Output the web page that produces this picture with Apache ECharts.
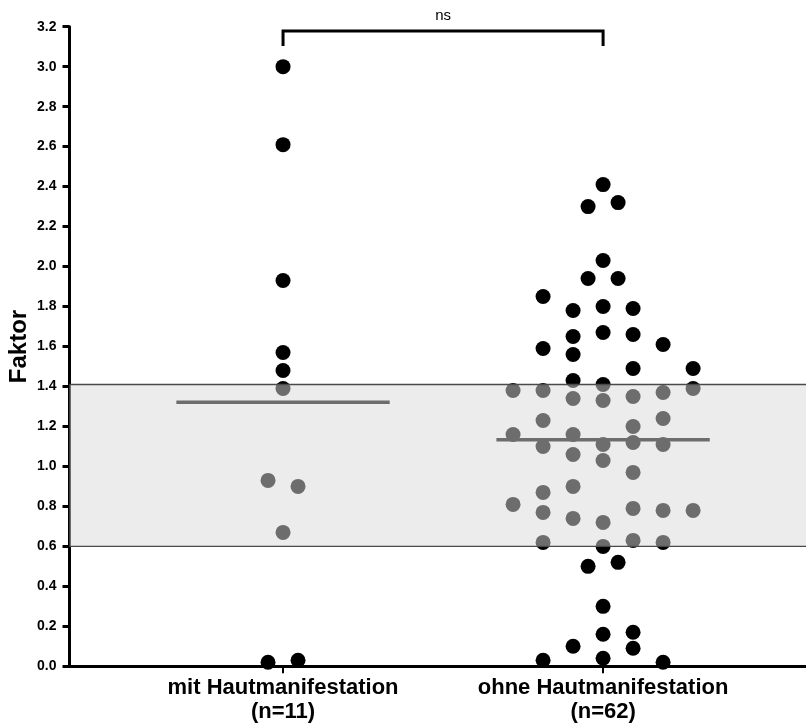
<!DOCTYPE html>
<html>
<head>
<meta charset="utf-8">
<script src="https://cdn.jsdelivr.net/npm/echarts@6/dist/echarts.min.js"></script>
<style>
  html, body { margin: 0; padding: 0; background: #fff; }
  #chart { width: 806px; height: 728px; }
</style>
</head>
<body>
<div id="chart"></div>
<script>
// Group labels on the x axis
const groupLabels = ['mit Hautmanifestation\n(n=11)', 'ohne Hautmanifestation\n(n=62)'];

// Factor values per patient, with their horizontal beeswarm slot
const mitValues = [3.00, 2.61, 1.93, 1.57, 1.48, 1.39, 0.93, 0.90, 0.67, 0.02, 0.03];
const mitSlots  = [0, 0, 0, 0, 0, 0, -0.5, 0.5, 0, -0.5, 0.5];

const ohneValues = [
  2.41, 2.30, 2.32, 2.03, 1.94, 1.94,
  1.85, 1.78, 1.80, 1.79, 1.65, 1.67, 1.66,
  1.59, 1.61, 1.56, 1.49, 1.49, 1.43, 1.41,
  1.38, 1.38, 1.34, 1.33, 1.35, 1.37, 1.39,
  1.23, 1.24, 1.16, 1.16, 1.20, 1.10, 1.11, 1.12, 1.11,
  1.06, 1.03, 0.97, 0.90, 0.87, 0.81, 0.77, 0.74, 0.72, 0.79, 0.78, 0.78,
  0.62, 0.63, 0.62, 0.60, 0.50, 0.52,
  0.30, 0.16, 0.17, 0.10, 0.09, 0.03, 0.04, 0.02
];
const ohneSlots = [
  0, -0.5, 0.5, 0, -0.5, 0.5,
  -2, -1, 0, 1, -1, 0, 1,
  -2, 2, -1, 1, 3, -1, 0,
  -3, -2, -1, 0, 1, 2, 3,
  -2, 2, -3, -1, 1, -2, 0, 1, 2,
  -1, 0, 1, -1, -2, -3, -2, -1, 0, 1, 2, 3,
  -2, 1, 2, 0, -0.5, 0.5,
  0, 0, 1, -1, 1, -2, 0, 2
];

// Normal range shown as a shaded band
const referenceRange = [0.60, 1.41];

// Significance bracket between the two groups
const comparison = { from: 1, to: 2, label: 'ns' };

// Layout / style constants
const SLOT_WIDTH = 0.09375;     // x-units per beeswarm slot
const MEAN_HALF_WIDTH = 1 / 3;  // half length of the mean bar, x-units
const BRACKET_Y = 3.178;
const BRACKET_DROP = 3.103;
const LABEL_Y = 3.256;
const FONT = '"Liberation Sans", Arial, Helvetica, sans-serif';

const mean = arr => arr.reduce((s, v) => s + v, 0) / arr.length;
const toPoints = (group, values, slots) =>
  values.map((v, i) => [group + slots[i] * SLOT_WIDTH, v]);

const chart = echarts.init(document.getElementById('chart'), null, { renderer: 'canvas' });

chart.setOption({
  animation: false,
  backgroundColor: '#fff',
  grid: {
    left: 69.5, right: 0, top: 26.7, bottom: 61.7,
    containLabel: false,
    outerBoundsMode: 'none'
  },
  xAxis: {
    type: 'value',
    min: 0.3328,
    max: 2.634,
    splitLine: { show: false },
    axisLine: { show: true, onZero: false, lineStyle: { color: '#000', width: 3 } },
    axisTick: { show: true, customValues: [1, 2], length: 7, lineStyle: { color: '#000', width: 2 } },
    axisLabel: {
      show: true,
      customValues: [1, 2],
      formatter: v => groupLabels[Math.round(v) - 1] || '',
      color: '#000',
      fontFamily: FONT,
      fontWeight: 'bold',
      fontSize: 22,
      lineHeight: 24,
      margin: 10
    }
  },
  yAxis: {
    type: 'value',
    min: 0,
    max: 3.2,
    interval: 0.2,
    name: 'Faktor',
    nameLocation: 'middle',
    nameGap: 38,
    nameMoveOverlap: false,
    nameTextStyle: { color: '#000', fontFamily: FONT, fontWeight: 'bold', fontSize: 24 },
    splitLine: { show: false },
    axisLine: { show: true, lineStyle: { color: '#000', width: 3 } },
    axisTick: { show: true, length: 7, lineStyle: { color: '#000', width: 3 } },
    axisLabel: {
      color: '#000',
      fontFamily: FONT,
      fontWeight: 'bold',
      fontSize: 14,
      margin: 13,
      formatter: v => v.toFixed(1)
    }
  },
  series: [
    {
      name: 'mit Hautmanifestation',
      type: 'scatter',
      data: toPoints(1, mitValues, mitSlots),
      symbol: 'circle',
      symbolSize: 15,
      itemStyle: { color: '#000', opacity: 1 },
      z: 2
    },
    {
      name: 'ohne Hautmanifestation',
      type: 'scatter',
      data: toPoints(2, ohneValues, ohneSlots),
      symbol: 'circle',
      symbolSize: 15,
      itemStyle: { color: '#000', opacity: 1 },
      z: 2
    },
    {
      // group means
      name: 'Mittelwert',
      type: 'custom',
      data: [[1, mean(mitValues)], [2, mean(ohneValues)]],
      renderItem: (params, api) => {
        const g = api.value(0), m = api.value(1);
        const a = api.coord([g - MEAN_HALF_WIDTH, m]);
        const b = api.coord([g + MEAN_HALF_WIDTH, m]);
        return {
          type: 'line',
          shape: { x1: a[0], y1: a[1], x2: b[0], y2: b[1] },
          style: { stroke: '#000', lineWidth: 3.5 }
        };
      },
      z: 3
    },
    {
      // translucent normal-range band laid over the points
      name: 'Normbereich',
      type: 'custom',
      data: [referenceRange],
      clip: false,
      renderItem: (params, api) => {
        const cs = params.coordSys;
        const top = api.coord([1, api.value(1)])[1];
        const bottom = api.coord([1, api.value(0)])[1];
        return {
          type: 'group',
          children: [
            {
              type: 'rect',
              shape: { x: cs.x, y: top, width: cs.width, height: bottom - top },
              style: { fill: 'rgba(217,217,217,0.5)' }
            },
            {
              type: 'line',
              shape: { x1: cs.x, y1: top, x2: cs.x + cs.width, y2: top },
              style: { stroke: '#4a4a4a', lineWidth: 1.3 }
            },
            {
              type: 'line',
              shape: { x1: cs.x, y1: bottom, x2: cs.x + cs.width, y2: bottom },
              style: { stroke: '#4a4a4a', lineWidth: 1.3 }
            }
          ]
        };
      },
      z: 5
    },
    {
      // significance bracket
      name: 'Signifikanz',
      type: 'custom',
      data: [[comparison.from, comparison.to, BRACKET_Y, BRACKET_DROP]],
      clip: false,
      renderItem: (params, api) => {
        const x1 = api.value(0), x2 = api.value(1);
        const y = api.value(2), yDrop = api.value(3);
        const p1 = api.coord([x1, yDrop]);
        const p2 = api.coord([x1, y]);
        const p3 = api.coord([x2, y]);
        const p4 = api.coord([x2, yDrop]);
        const t = api.coord([(x1 + x2) / 2, LABEL_Y]);
        return {
          type: 'group',
          children: [
            {
              type: 'polyline',
              shape: { points: [p1, p2, p3, p4] },
              style: { stroke: '#000', lineWidth: 3, fill: null, lineJoin: 'miter' }
            },
            {
              type: 'text',
              style: {
                text: comparison.label,
                x: t[0], y: t[1],
                align: 'center', verticalAlign: 'middle',
                fontFamily: FONT, fontSize: 15, fill: '#000'
              }
            }
          ]
        };
      },
      z: 6
    }
  ]
});
</script>
</body>
</html>
